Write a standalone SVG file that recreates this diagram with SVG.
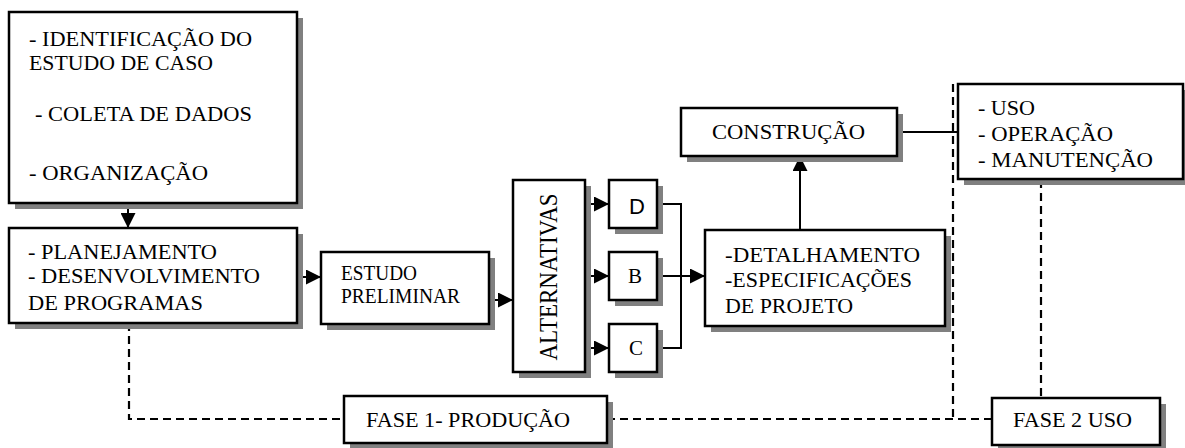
<svg xmlns="http://www.w3.org/2000/svg" width="1185" height="448" viewBox="0 0 1185 448">
<style>
  .box{fill:#fff;stroke:#000;stroke-width:2.5}
  .sh{fill:#808080;stroke:none}
  .t{font-family:"Liberation Serif",serif;font-size:21px;fill:#000}
  .s{font-family:"Liberation Sans",sans-serif;font-size:22px;fill:#000}
  .ln{fill:none;stroke:#000;stroke-width:2}
  .dash{fill:none;stroke:#000;stroke-width:2.2;stroke-dasharray:8 5}
</style>
<defs>
  <marker id="arr" markerUnits="userSpaceOnUse" markerWidth="15" markerHeight="15" refX="15" refY="7.5" orient="auto">
    <path d="M0,0 L15,7.5 L0,15 Z" fill="#000"/>
  </marker>
</defs>
<rect width="1185" height="448" fill="#fff"/>

<g id="connectors">
  <line class="ln" x1="128" y1="204" x2="128" y2="228" marker-end="url(#arr)"/>
  <line class="ln" x1="297" y1="277" x2="321" y2="277" marker-end="url(#arr)"/>
  <line class="ln" x1="489" y1="300" x2="513" y2="300" marker-end="url(#arr)"/>
  <line class="ln" x1="585" y1="204" x2="609" y2="204" marker-end="url(#arr)"/>
  <line class="ln" x1="585" y1="276" x2="609" y2="276" marker-end="url(#arr)"/>
  <line class="ln" x1="585" y1="348" x2="609" y2="348" marker-end="url(#arr)"/>
  <polyline class="ln" points="657,204 681,204 681,348 657,348"/>
  <line class="ln" x1="657" y1="276" x2="705" y2="276" marker-end="url(#arr)"/>
  <line class="ln" x1="800" y1="230" x2="800" y2="156" marker-end="url(#arr)"/>
  <line class="ln" x1="897" y1="132" x2="970" y2="132"/>
  <polyline class="dash" points="129,323 129,419 344,419"/>
  <line class="dash" x1="607" y1="419" x2="992" y2="419"/>
  <line class="dash" x1="953" y1="84" x2="953" y2="419"/>
  <line class="dash" x1="1041" y1="180" x2="1041" y2="398"/>
</g>

<g id="n-identificacao">
  <rect class="sh" x="15" y="18" width="288" height="191"/>
  <rect class="box" x="9" y="12" width="288" height="191"/>
  <text class="t" x="29" y="46" textLength="223" lengthAdjust="spacingAndGlyphs">- IDENTIFICAÇÃO DO</text>
  <text class="t" x="29" y="70" textLength="184" lengthAdjust="spacingAndGlyphs">ESTUDO DE CASO</text>
  <text class="t" x="35" y="121" textLength="217" lengthAdjust="spacingAndGlyphs">- COLETA DE DADOS</text>
  <text class="t" x="29" y="180" textLength="179" lengthAdjust="spacingAndGlyphs">- ORGANIZAÇÃO</text>
</g>

<g id="n-planejamento">
  <rect class="sh" x="15" y="234" width="288" height="95"/>
  <rect class="box" x="9" y="228" width="288" height="95"/>
  <text class="t" x="28" y="259" textLength="189" lengthAdjust="spacingAndGlyphs">- PLANEJAMENTO</text>
  <text class="t" x="28" y="283" textLength="232" lengthAdjust="spacingAndGlyphs">- DESENVOLVIMENTO</text>
  <text class="t" x="28" y="310" textLength="175" lengthAdjust="spacingAndGlyphs">DE PROGRAMAS</text>
</g>

<g id="n-estudo">
  <rect class="sh" x="327" y="258" width="168" height="72"/>
  <rect class="box" x="321" y="252" width="168" height="72"/>
  <text class="t" x="341" y="280" textLength="76" lengthAdjust="spacingAndGlyphs">ESTUDO</text>
  <text class="t" x="341" y="303" textLength="119" lengthAdjust="spacingAndGlyphs">PRELIMINAR</text>
</g>

<g id="n-alternativas">
  <rect class="sh" x="519" y="186" width="72" height="192"/>
  <rect class="box" x="513" y="180" width="72" height="192"/>
  <text class="t" transform="translate(557,277) rotate(-90)" x="0" y="0" text-anchor="middle" style="font-size:26px" textLength="167" lengthAdjust="spacingAndGlyphs">ALTERNATIVAS</text>
</g>

<g id="n-d">
  <rect class="sh" x="615" y="186" width="48" height="48"/>
  <rect class="box" x="609" y="180" width="48" height="48"/>
  <text class="s" x="637" y="214" text-anchor="middle">D</text>
</g>

<g id="n-b">
  <rect class="sh" x="615" y="258" width="48" height="48"/>
  <rect class="box" x="609" y="252" width="48" height="48"/>
  <text class="t" x="635" y="283" text-anchor="middle">B</text>
</g>

<g id="n-c">
  <rect class="sh" x="615" y="330" width="48" height="48"/>
  <rect class="box" x="609" y="324" width="48" height="48"/>
  <text class="t" x="636" y="355" text-anchor="middle">C</text>
</g>

<g id="n-detalhamento">
  <rect class="sh" x="711" y="236" width="240" height="96"/>
  <rect class="box" x="705" y="230" width="240" height="96"/>
  <text class="t" x="725" y="262" textLength="195" lengthAdjust="spacingAndGlyphs">-DETALHAMENTO</text>
  <text class="t" x="725" y="287" textLength="187" lengthAdjust="spacingAndGlyphs">-ESPECIFICAÇÕES</text>
  <text class="t" x="725" y="313" textLength="128" lengthAdjust="spacingAndGlyphs">DE PROJETO</text>
</g>

<g id="n-construcao">
  <rect class="sh" x="687" y="114" width="216" height="48"/>
  <rect class="box" x="681" y="108" width="216" height="48"/>
  <text class="t" x="712" y="139" textLength="153" lengthAdjust="spacingAndGlyphs">CONSTRUÇÃO</text>
</g>

<g id="n-uso">
  <rect class="sh" x="964" y="90" width="225" height="95"/>
  <rect class="box" x="958" y="84" width="225" height="95"/>
  <text class="t" x="978" y="115" textLength="57" lengthAdjust="spacingAndGlyphs">- USO</text>
  <text class="t" x="978" y="141" textLength="135" lengthAdjust="spacingAndGlyphs">- OPERAÇÃO</text>
  <text class="t" x="978" y="167" textLength="175" lengthAdjust="spacingAndGlyphs">- MANUTENÇÃO</text>
</g>

<g id="n-fase1">
  <rect class="sh" x="350" y="402" width="263" height="47"/>
  <rect class="box" x="344" y="396" width="263" height="47"/>
  <text class="t" x="366" y="427" textLength="204" lengthAdjust="spacingAndGlyphs">FASE 1- PRODUÇÃO</text>
</g>

<g id="n-fase2">
  <rect class="sh" x="998" y="404" width="168" height="47"/>
  <rect class="box" x="992" y="398" width="168" height="47"/>
  <text class="t" x="1013" y="427" textLength="119" lengthAdjust="spacingAndGlyphs">FASE 2 USO</text>
</g>
</svg>
